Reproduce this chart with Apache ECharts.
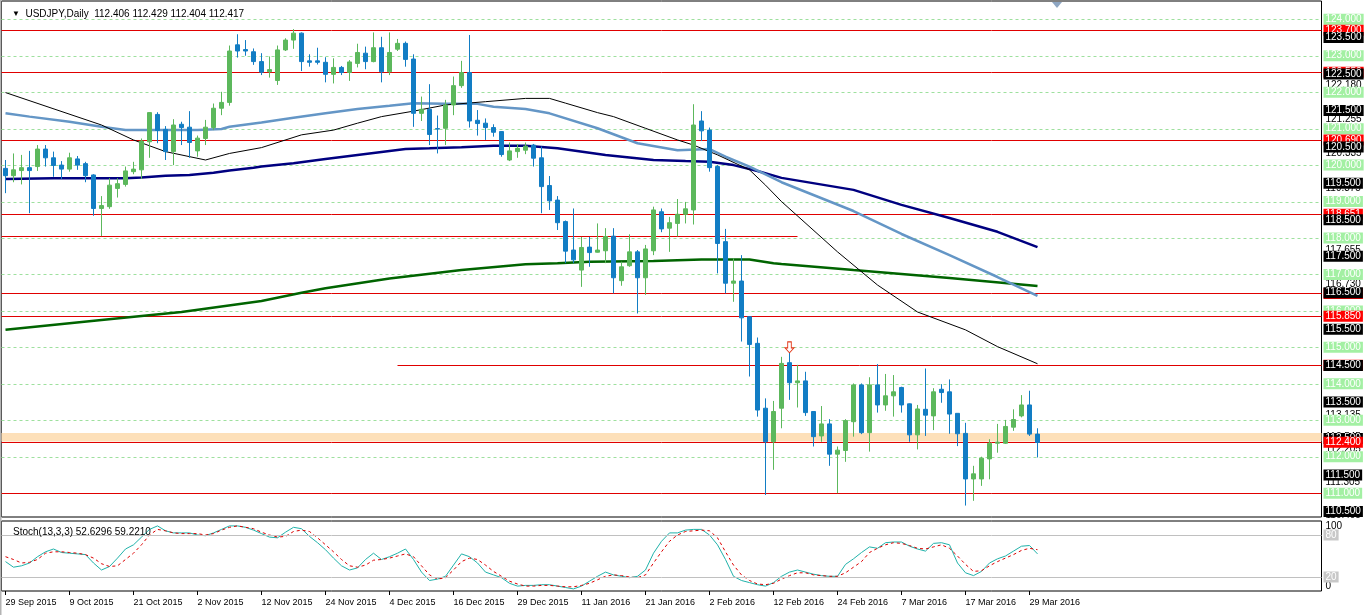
<!DOCTYPE html>
<html>
<head>
<meta charset="utf-8">
<script src="https://cdn.jsdelivr.net/npm/echarts@6/dist/echarts.min.js"></script>
<style>
  html, body { margin: 0; padding: 0; background: #fff; }
  #chart { width: 1365px; height: 615px; }
</style>
</head>
<body>
<div id="chart"></div>
<script>
// bar slots on the time axis (data + empty shift area on the right)
const SLOT_COUNT = 165;

// one date label every 8 bars, starting at bar 0
const dateTicks = [
  "29 Sep 2015", "9 Oct 2015", "21 Oct 2015", "2 Nov 2015", "12 Nov 2015",
  "24 Nov 2015", "4 Dec 2015", "16 Dec 2015", "29 Dec 2015", "11 Jan 2016",
  "21 Jan 2016", "2 Feb 2016", "12 Feb 2016", "24 Feb 2016", "7 Mar 2016",
  "17 Mar 2016", "29 Mar 2016"
];

// daily bars: [open, high, low, close]
const candles = [
  [119.91,120.14,119.23,119.71],[119.71,120.32,119.53,119.87],[119.85,120.28,119.47,119.93],[119.93,120.39,118.68,119.85],
  [119.96,120.55,119.84,120.44],[120.44,120.55,119.96,120.20],[120.20,120.37,119.68,119.99],[120.00,120.11,119.62,119.89],
  [119.89,120.34,119.82,120.20],[120.17,120.25,119.87,120.00],[120.04,120.09,119.53,119.71],[119.73,119.75,118.61,118.81],
  [118.81,119.15,118.05,118.89],[118.86,119.64,118.80,119.45],[119.36,119.64,119.11,119.49],[119.47,119.96,119.41,119.84],
  [119.82,120.09,119.75,119.89],[119.87,120.73,119.62,120.66],[120.64,121.45,120.20,121.44],[121.39,121.45,120.60,120.95],
  [120.98,121.07,120.14,120.37],[120.37,121.26,120.00,121.10],[121.12,121.19,120.55,121.03],[121.04,121.48,120.20,120.62],
  [120.39,120.81,120.23,120.74],[120.73,121.24,120.55,121.04],[121.03,121.69,120.96,121.56],[121.56,122.01,121.37,121.72],
  [121.72,123.28,121.63,123.13],[123.30,123.59,122.95,123.13],[123.17,123.43,123.00,123.13],[123.11,123.20,122.75,122.84],
  [122.84,123.07,122.47,122.55],[122.56,122.98,122.40,122.62],[122.32,123.28,122.20,123.16],[123.16,123.48,123.13,123.43],
  [123.43,123.73,123.19,123.62],[123.62,123.64,122.58,122.84],[122.86,123.04,122.70,122.82],[122.86,123.22,122.76,122.82],
  [122.82,122.96,122.27,122.49],[122.49,122.93,122.24,122.68],[122.68,122.72,122.47,122.54],[122.54,122.88,122.31,122.83],
  [122.79,123.33,122.68,123.09],[123.07,123.25,122.63,122.84],[122.84,123.64,122.82,123.22],[123.22,123.52,122.27,122.56],
  [122.56,123.64,122.47,123.09],[123.18,123.46,123.13,123.34],[123.34,123.39,122.70,122.90],[122.91,123.04,121.05,121.42],
  [121.42,121.88,121.21,121.53],[121.53,122.22,120.55,120.84],[121.00,121.36,120.32,120.99],[121.01,121.79,120.55,121.65],
  [121.65,122.43,121.37,122.18],[122.18,122.86,122.12,122.54],[122.54,123.57,121.03,121.21],[121.23,121.51,120.81,121.14],
  [121.15,121.28,120.69,121.03],[121.03,121.12,120.78,120.90],[120.92,120.93,120.23,120.29],[120.14,120.62,120.11,120.39],
  [120.37,120.58,120.20,120.46],[120.41,120.62,120.30,120.52],[120.55,120.58,119.96,120.19],[120.20,120.51,118.68,119.41],
  [119.44,119.70,118.77,119.02],[119.04,119.15,118.22,118.42],[118.45,118.48,117.31,117.64],[117.67,118.81,117.31,117.40],
  [117.12,118.03,116.66,117.74],[117.75,118.03,117.21,117.60],[117.61,118.40,117.60,117.67],[117.65,118.27,117.31,118.04],
  [118.05,118.27,116.48,116.91],[116.83,117.35,116.69,117.21],[117.24,118.10,117.21,117.62],[117.62,117.67,115.93,116.91],
  [116.91,117.81,116.44,117.70],[117.65,118.86,117.53,118.77],[118.72,118.81,118.16,118.25],[118.27,118.58,117.62,118.42],
  [118.40,119.07,118.04,118.65],[118.65,118.99,118.40,118.80],[118.77,121.67,118.37,121.10],[121.21,121.48,120.66,120.94],
  [120.96,121.03,119.82,119.93],[119.96,120.00,117.03,117.85],[117.90,118.25,116.48,116.76],[116.76,117.44,116.25,116.82],
  [116.82,117.53,115.16,115.81],[115.84,115.84,114.20,115.08],[115.11,115.27,113.10,113.28],[113.33,113.60,110.95,112.41],
  [112.41,113.53,111.64,113.24],[113.33,114.74,112.78,114.56],[114.58,114.88,113.56,114.03],[114.03,114.52,113.35,114.08],
  [114.08,114.33,113.12,113.21],[113.24,113.24,112.28,112.55],[112.57,113.39,112.41,112.90],[112.90,113.03,111.75,112.07],
  [112.07,112.28,111.00,112.18],[112.17,113.03,111.86,112.99],[112.96,114.01,112.55,113.97],[113.97,114.01,112.62,112.66],
  [112.66,114.18,112.14,113.97],[113.97,114.54,113.21,113.42],[113.42,114.27,113.26,113.67],[113.67,114.24,113.10,113.78],
  [113.90,113.92,113.21,113.42],[113.45,113.46,112.41,112.60],[112.60,113.42,112.20,113.31],[113.30,114.42,112.57,113.14],
  [113.12,113.88,112.73,113.78],[113.85,113.99,113.48,113.76],[113.78,114.12,112.63,113.17],[113.19,113.19,112.29,112.63],
  [112.64,112.93,110.66,111.39],[111.39,111.75,110.79,111.53],[111.39,112.00,111.20,111.96],[111.94,112.48,111.38,112.37],
  [112.37,112.90,112.11,112.40],[112.37,113.01,112.35,112.83],[112.81,113.30,112.71,113.02],[113.12,113.69,113.08,113.42],
  [113.42,113.81,112.57,112.62],[112.62,112.78,111.98,112.39]
];

// moving averages, read at [bar, price]
const maFast = [[0,121.99],[12,121.10],[16,120.69],[20,120.37],[25,120.14],[28,120.32],[32,120.48],[37,120.83],[41,120.96],
  [44,121.15],[47,121.33],[51,121.48],[55,121.65],[60,121.74],[65,121.83],[68,121.83],[70,121.70],[74,121.44],[76,121.33],
  [80,121.01],[84,120.69],[86,120.55],[89,120.28],[93,119.87],[95,119.45],[97,119.00],[104,117.62],[109,116.71],[114,115.97],
  [120,115.48],[124,115.02],[129,114.55]];
const maMid = [[0,121.42],[3,121.33],[8,121.19],[12,121.05],[15,120.96],[24,120.96],[27,120.99],[28,121.05],[32,121.17],
  [36,121.30],[40,121.42],[44,121.54],[48,121.63],[51,121.70],[55,121.68],[59,121.68],[61,121.60],[65,121.54],[68,121.42],
  [74,121.01],[79,120.60],[84,120.41],[88,120.44],[90,120.23],[93,119.96],[97,119.53],[106,118.74],[112,118.11],[118,117.53],
  [124,116.93],[129,116.41]];
const maSlow = [[0,119.62],[6,119.64],[15,119.64],[17,119.66],[20,119.71],[23,119.73],[26,119.79],[28,119.85],[31,119.93],
  [32,119.96],[36,120.05],[40,120.17],[44,120.28],[48,120.39],[50,120.44],[53,120.46],[57,120.49],[61,120.53],[65,120.53],
  [69,120.46],[75,120.28],[81,120.14],[85,120.11],[88,120.09],[91,120.00],[94,119.84],[97,119.65],[106,119.32],[112,118.91],
  [118,118.55],[124,118.17],[129,117.75]];
const maLong = [[0,115.48],[12,115.75],[22,115.97],[32,116.27],[37,116.50],[40,116.62],[48,116.89],[57,117.12],[65,117.28],
  [69,117.31],[73,117.35],[81,117.37],[87,117.41],[93,117.41],[96,117.31],[97,117.29],[106,117.12],[118,116.90],[129,116.68]];

// stochastic 13,3,3
const stochMain = [42,34,36,40,49,56,60,55,54,53, 52,40,30,35,47,60,66,77,88,93, 86,83,83,83,80,79,83,88,93,93,
  91,87,82,77,76,84,91,89,78,69, 59,47,36,30,33,45,54,45,49,54, 60,45,27,15,17,21,37,53,49,40,
  27,23,19,11,7,8,8,9,9,7, 5,3,7,14,21,27,23,21,19,21, 30,54,71,83,83,87,88,88,80,66,
  45,21,15,12,9,7,12,21,27,30, 27,24,22,21,21,38,46,55,63,61, 69,70,70,64,60,57,68,69,66,40,
  26,22,28,40,46,50,57,64,65,53];
const stochSignal = [49,45,40,41,45,54,56,56,55,54, 52,47,39,35,36,45,54,66,80,88, 86,83,82,82,82,80,82,87,91,93,
  91,89,84,80,77,78,85,87,85,76, 66,56,45,36,34,37,44,45,47,50, 53,49,36,23,17,19,30,42,47,45,
  37,28,21,14,10,7,7,8,8,7, 6,6,8,11,16,21,23,22,20,19, 23,40,56,71,80,85,86,87,86,76,
  56,37,23,15,10,9,11,17,22,26, 26,23,22,21,21,26,34,42,55,61, 66,69,68,65,61,60,63,66,61,50,
  38,28,29,36,42,47,52,58,61,59];
const stochLevels = [80, 20];

// horizontal levels: [price, first bar, last bar]
const gridLevels = [111,112,113,114,115,116,117,118,119,120,121,122,123,124];
const redLines = [
  [123.70, 0, 164], [122.55, 0, 164], [120.69, 0, 164], [118.65, 0, 164], [118.05, 0, 99],
  [116.48, 0, 164], [115.85, 0, 164], [114.51, 49, 164], [112.40, 0, 164], [111.00, 0, 164]
];
const redTags = [123.70, 122.55, 120.69, 118.65, 116.48, 115.85, 114.51];
const redTagTexts = ["123.700", "122.550", "120.690", "118.651", "116.480", "115.850", "114.510"];
const bidTag = 112.40;
const zone = [112.42, 112.65];
const arrowBar = 98, arrowPrice = 115.0;

// price scale labels
const priceTicks = [110.5,111.5,112.5,113.5,114.5,115.5,116.5,117.5,118.5,119.5,120.5,121.5,122.5,123.5];
const valueTicks = [122.180,121.255,120.335,119.375,117.655,116.730,115.850,114.935,113.135,112.545,112.205,111.305,110.405];
const priceMin = 110.346, priceMax = 124.502;

const FONT = "Liberation Sans, Arial, sans-serif";
const BULL = "#5cb85c";
const BEAR = "#127dc4";
const RED = "#e00000";

const slots = Array.from({ length: SLOT_COUNT }, (_, i) => String(i));
const tickEvery = (i) => i % 8 === 0 && i / 8 < dateTicks.length;

// a right-hand price axis used only to place tags
const tagAxis = (values, z, label) => ({
  type: "value", gridIndex: 0, position: "right", min: priceMin, max: priceMax, z: z,
  axisLine: { show: false }, splitLine: { show: false }, splitArea: { show: false }, axisTick: { show: false },
  axisLabel: Object.assign({ show: true, customValues: values, margin: 2, align: "left",
    fontSize: 10, fontFamily: FONT, padding: [1, 2, 0, 2] }, label)
});

// horizontal segment drawn through the axes; full-length lines reach the pane edges
const hLine = (style) => (params, api) => {
  const price = api.value(0), from = api.value(1), to = api.value(2);
  const a = api.coord([from, price]);
  const b = api.coord([to, price]);
  const half = api.size([1, 0])[0] / 2;
  const y = Math.round(a[1]) + 0.5;
  return {
    type: "line",
    shape: { x1: from === 0 ? a[0] - half : a[0], y1: y, x2: to === SLOT_COUNT - 1 ? b[0] + half : b[0], y2: y },
    style: style
  };
};

const option = {
  animation: false,
  backgroundColor: "#fff",
  title: [
    {
      text: "{t|▼}  USDJPY,Daily  112.406 112.429 112.404 112.417",
      left: 7, top: 4,
      textStyle: {
        fontSize: 10, fontWeight: "normal", color: "#000", fontFamily: FONT,
        rich: { t: { fontSize: 8, color: "#000" } }
      }
    },
    {
      text: "Stoch(13,3,3) 52.6296 59.2210",
      left: 8, top: 522,
      textStyle: { fontSize: 10, fontWeight: "normal", color: "#000", fontFamily: FONT }
    }
  ],
  graphic: [
    { type: "polygon", shape: { points: [[1052, 2], [1062, 2], [1057, 8]] }, style: { fill: "#8ea6c2" } },
    { type: "rect", shape: { x: 0, y: 0, width: 1.5, height: 615 }, style: { fill: "#b4b4b4" } }
  ],
  grid: [
    { left: 1.5, top: 1, width: 1320, height: 516, show: true, borderColor: "#000", borderWidth: 1,
      backgroundColor: "#fff", outerBoundsMode: "none" },
    { left: 1.5, top: 521, width: 1320, height: 70, show: true, borderColor: "#000", borderWidth: 1,
      backgroundColor: "#fff", outerBoundsMode: "none" }
  ],
  xAxis: [
    { type: "category", gridIndex: 0, data: slots, boundaryGap: true,
      axisLine: { show: false }, axisTick: { show: false }, axisLabel: { show: false }, splitLine: { show: false } },
    { type: "category", gridIndex: 1, data: slots, boundaryGap: true,
      axisLine: { show: false },
      axisTick: { show: true, alignWithLabel: true, interval: tickEvery, length: 4, lineStyle: { color: "#000" } },
      axisLabel: {
        show: true, interval: tickEvery, align: "left", margin: 7,
        formatter: (v, i) => dateTicks[i / 8] || "",
        fontSize: 9, color: "#000", fontFamily: FONT
      },
      splitLine: { show: false } }
  ],
  yAxis: [
    tagAxis(priceTicks, 10, { formatter: (v) => v.toFixed(3), backgroundColor: "#000", color: "#fff" }),
    tagAxis(valueTicks, 1, { formatter: (v) => v.toFixed(3), color: "#000", margin: 4, padding: 0 }),
    { type: "value", gridIndex: 1, position: "right", min: 0, max: 100,
      axisLine: { show: false }, splitLine: { show: false }, axisTick: { show: false },
      axisLabel: {
        show: true, customValues: [0, 100], margin: 4, align: "left",
        verticalAlignMinLabel: "bottom", verticalAlignMaxLabel: "top",
        color: "#000", fontSize: 10, fontFamily: FONT
      } },
    tagAxis(gridLevels, 3, { formatter: (v) => v.toFixed(3), backgroundColor: "#a3f0a3", color: "#fff" }),
    tagAxis(redTags, 4, { formatter: (v) => redTagTexts[redTags.indexOf(v)] || v.toFixed(3),
      backgroundColor: "#ff0000", color: "#fff" }),
    tagAxis([bidTag], 11, { formatter: (v) => v.toFixed(3), backgroundColor: "#ff0000", color: "#fff" })
  ],
  series: [
    {
      name: "zone", type: "custom", xAxisIndex: 0, yAxisIndex: 0, z: 1, silent: true,
      data: [[zone[0], zone[1]]],
      encode: { y: [0, 1] },
      renderItem: (params, api) => {
        const lo = api.coord([0, api.value(0)]);
        const hi = api.coord([SLOT_COUNT - 1, api.value(1)]);
        const half = api.size([1, 0])[0] / 2;
        return { type: "rect", shape: { x: lo[0] - half, y: hi[1], width: hi[0] - lo[0] + 2 * half, height: lo[1] - hi[1] },
          style: { fill: "#fde0b9" } };
      }
    },
    {
      name: "grid levels", type: "custom", xAxisIndex: 0, yAxisIndex: 0, z: 1, silent: true,
      data: gridLevels.map((v) => [v, 0, SLOT_COUNT - 1]),
      encode: { y: 0 },
      renderItem: hLine({ stroke: "#9ee09e", lineWidth: 1, lineDash: [3, 3] })
    },
    {
      name: "red levels", type: "custom", xAxisIndex: 0, yAxisIndex: 0, z: 2, silent: true,
      data: redLines,
      encode: { y: 0 },
      renderItem: hLine({ stroke: RED, lineWidth: 1 })
    },
    { name: "MA long", type: "line", xAxisIndex: 0, yAxisIndex: 0, data: maLong, symbol: "none", z: 2,
      lineStyle: { color: "#006400", width: 2.5 } },
    { name: "MA slow", type: "line", xAxisIndex: 0, yAxisIndex: 0, data: maSlow, symbol: "none", z: 2,
      lineStyle: { color: "#000080", width: 2.5 } },
    { name: "MA mid", type: "line", xAxisIndex: 0, yAxisIndex: 0, data: maMid, symbol: "none", z: 2,
      lineStyle: { color: "#6496c6", width: 2.5 } },
    { name: "MA fast", type: "line", xAxisIndex: 0, yAxisIndex: 0, data: maFast, symbol: "none", z: 2,
      lineStyle: { color: "#000", width: 1 } },
    {
      name: "USDJPY", type: "candlestick", xAxisIndex: 0, yAxisIndex: 0, z: 3,
      barWidth: 4,
      data: candles.map((c) => [c[0], c[3], c[2], c[1]]),
      itemStyle: { color: BULL, color0: BEAR, borderColor: BULL, borderColor0: BEAR, borderWidth: 1 },
      markPoint: {
        silent: true,
        data: [{
          coord: [arrowBar, arrowPrice],
          symbol: "path://M3,0 L7,0 L7,6 L10,6 L5,11 L0,6 L3,6 Z",
          symbolSize: [9, 11],
          itemStyle: { color: "#fff", borderColor: "#e23a1a", borderWidth: 1 },
          label: { show: false }
        }]
      }
    },
    {
      name: "levels", type: "line", xAxisIndex: 1, yAxisIndex: 2, data: [], silent: true,
      markLine: {
        silent: true, symbol: "none",
        lineStyle: { color: "#c0c0c0", type: "solid", width: 1 },
        data: stochLevels.map((v) => ({
          yAxis: v,
          label: { show: true, position: "end", distance: 2, formatter: String(v),
            backgroundColor: "#c8c8c8", color: "#fff", padding: [1, 2, 0, 2], fontSize: 10, fontFamily: FONT }
        }))
      }
    },
    { name: "Main", type: "line", xAxisIndex: 1, yAxisIndex: 2, data: stochMain, symbol: "none",
      lineStyle: { color: "#20b2aa", width: 1 } },
    { name: "Signal", type: "line", xAxisIndex: 1, yAxisIndex: 2, data: stochSignal, symbol: "none",
      lineStyle: { color: "#dd0000", width: 1, type: [3, 3] } }
  ]
};

const chart = echarts.init(document.getElementById("chart"));
chart.setOption(option);
</script>
</body>
</html>
